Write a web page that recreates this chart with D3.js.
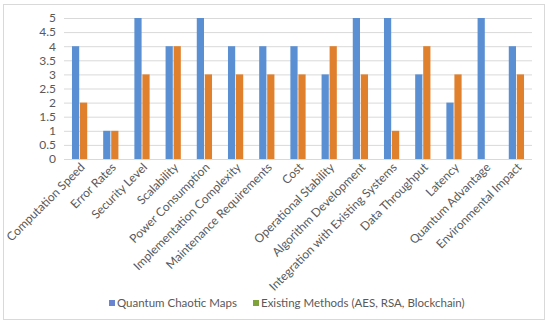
<!DOCTYPE html>
<html><head><meta charset="utf-8">
<script src="https://cdn.jsdelivr.net/npm/d3@7/dist/d3.min.js"></script>
<style>body{margin:0;background:#fff}svg{display:block}text{font-family:Lato,"Liberation Sans",sans-serif}</style>
</head><body><svg id="c" width="550" height="325"></svg>
<script>
const categories = ["Computation Speed","Error Rates","Security Level","Scalability","Power Consumption","Implementation Complexity","Maintenance Requirements","Cost","Operational Stability","Algorithm Development","Integration with Existing Systems","Data Throughput","Latency","Quantum Advantage","Environmental Impact"];
const seriesNames = ["Quantum Chaotic Maps","Existing Methods (AES, RSA, Blockchain)"];
const quantumValues = [4,1,5,4,5,4,4,4,3,5,5,3,2,5,4];
const existingValues = [2,1,3,4,3,3,3,3,4,3,1,4,3,0,3];
const yTicks = [0,0.5,1,1.5,2,2.5,3,3.5,4,4.5,5];

const svg = d3.select("#c");
svg.append("rect").attr("x",3.5).attr("y",4.5).attr("width",541).attr("height",315)
  .attr("fill","#fff").attr("stroke","#d9d9d9");

const m = {l:64, r:532, t:18, b:159};
const x0 = d3.scaleBand().domain(categories).range([m.l,m.r]).paddingInner(0.46).paddingOuter(0.23);
const x1 = d3.scaleBand().domain(seriesNames).range([0,x0.bandwidth()]).padding(0.1);
const y = d3.scaleLinear().domain([0,5]).range([m.b,m.t]);
const barColors = ["#5b8fd3","#e0802c"];
const legendColors = ["#6a84d2","#7fa33a"];

const yAxis = d3.axisLeft(y).tickValues(yTicks).tickSize(-(m.r-m.l)).tickFormat(d3.format("~g"));
const ga = svg.append("g").attr("transform",`translate(${m.l},0)`).call(yAxis);
ga.select(".domain").remove();
ga.selectAll(".tick line").attr("stroke","#d9d9d9");
ga.selectAll(".tick text").attr("x",-8).attr("fill","#595959").style("font-size","12px");

svg.append("line").attr("x1",m.l).attr("x2",m.r).attr("y1",m.b+0.5).attr("y2",m.b+0.5).attr("stroke","#d9d9d9");

const data = categories.map((c,i)=>({c, vals:[quantumValues[i],existingValues[i]]}));
const g = svg.append("g");
data.forEach(d=>{
  d.vals.forEach((v,j)=>{
    if(v<=0) return;
    g.append("rect").attr("x",x0(d.c)+x1(seriesNames[j])).attr("width",x1.bandwidth())
      .attr("y",y(v)).attr("height",y(0)-y(v)).attr("fill",barColors[j]);
  });
});

const xAxis = d3.axisBottom(x0).tickSize(0);
const gx = svg.append("g").attr("transform",`translate(0,${m.b})`).call(xAxis);
gx.select(".domain").remove();
gx.selectAll(".tick text").attr("fill","#595959").style("font-size","12px")
  .attr("text-anchor","end").attr("dy",0).attr("y",0)
  .attr("transform","translate(6,9) rotate(-45)");

const lg = svg.append("g");
const legendX = [109,253];
seriesNames.forEach((s,i)=>{
  lg.append("rect").attr("x",legendX[i]).attr("y",300).attr("width",6).attr("height",6).attr("fill",legendColors[i]);
  lg.append("text").attr("x",legendX[i]+8).attr("y",307).attr("fill","#595959").style("font-size","11.5px").text(s);
});
</script></body></html>
